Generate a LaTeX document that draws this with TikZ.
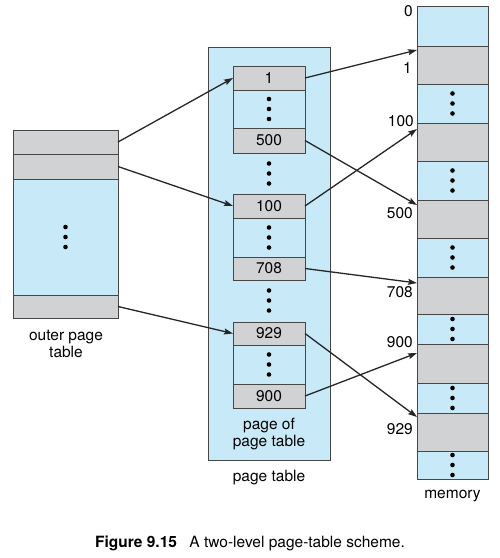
\documentclass[tikz,border=0pt]{standalone}
\usepackage{fontspec}
\setmainfont{TeX Gyre Heros}
\usetikzlibrary{arrows.meta}
\definecolor{cellblue}{RGB}{200,233,248}
\definecolor{cellgray}{RGB}{209,210,211}
\definecolor{edgecol}{RGB}{70,70,70}
\newcommand\mydots[1]{\fill (#1) ++(0,-10) circle (2.3) (#1) circle (2.3) (#1) ++(0,10) circle (2.3);}
\tikzset{
  txt/.style={font=\fontsize{15.5}{17.5}\selectfont, inner sep=1pt, align=center},
  cell/.style={draw=edgecol, line width=0.8pt, inner sep=0pt, outer sep=0pt, font=\fontsize{15.5}{17.5}\selectfont},
  gcell/.style={cell, fill=cellgray},
  bcell/.style={cell, fill=cellblue},
  ow/.style={minimum width=105},
  iw/.style={minimum width=72},
  mw/.style={minimum width=71},
  link/.style={line width=1.3pt, draw=black!85, -{Stealth[length=9pt,width=6pt,inset=1.5pt]}}
}
\begin{document}
\begin{tikzpicture}[x=1pt,y=-1pt]
\useasboundingbox (0,0) rectangle (499,558);
% outer page table
\node[gcell, ow, minimum height=24] (o1) at (65.5,142) {};
\node[gcell, ow, minimum height=25] (o2) at (65.5,166.5) {};
\node[bcell, ow, minimum height=116] (ob) at (65.5,237) {};
\node[gcell, ow, minimum height=23] (o3) at (65.5,306.5) {};
\mydots{ob}
\node[txt] (olab) at (66,344) {outer page\\table};
% page table
\node[bcell, minimum width=122, minimum height=413] (pt) at (269,253.5) {};
\node[gcell, iw, minimum height=24] (b1) at (269,78) {1};
\node[bcell, iw, minimum height=38] (b1d) at (269,109) {};
\node[gcell, iw, minimum height=25] (b500) at (269,140.5) {500};
\node[gcell, iw, minimum height=24] (b2) at (269,206) {100};
\node[bcell, iw, minimum height=39] (b2d) at (269,237.5) {};
\node[gcell, iw, minimum height=23] (b708) at (269,268.5) {708};
\node[gcell, iw, minimum height=23] (b3) at (269,333.5) {929};
\node[bcell, iw, minimum height=39] (b3d) at (269,364.5) {};
\node[gcell, iw, minimum height=24] (b900) at (269,396) {900};
\mydots{b1d}
\mydots{b2d}
\mydots{b3d}
\coordinate (g1) at (269,173.5);
\coordinate (g2) at (269,300.5);
\mydots{g1}
\mydots{g2}
\node[txt] (poplab) at (269,434) {page of\\page table};
\node[txt] (ptlab) at (269,478) {page table};
% memory
\node[bcell, mw, minimum height=40] (m0) at (452.5,26) {};
\node[gcell, mw, minimum height=38] (m1) at (452.5,65) {};
\node[bcell, mw, minimum height=39] (md1) at (452.5,103.5) {};
\node[gcell, mw, minimum height=38] (m100) at (452.5,142) {};
\node[bcell, mw, minimum height=39] (md2) at (452.5,180.5) {};
\node[gcell, mw, minimum height=38] (m500) at (452.5,219) {};
\node[bcell, mw, minimum height=39] (md3) at (452.5,257.5) {};
\node[gcell, mw, minimum height=37] (m708) at (452.5,295.5) {};
\node[bcell, mw, minimum height=30] (md4) at (452.5,329) {};
\node[gcell, mw, minimum height=39] (m900) at (452.5,363.5) {};
\node[bcell, mw, minimum height=30] (md5) at (452.5,398) {};
\node[gcell, mw, minimum height=38] (m929) at (452.5,432) {};
\node[bcell, mw, minimum height=28] (md6) at (452.5,465) {};
\foreach \n in {md1,md2,md3,md4,md5,md6} {\mydots{\n}}
\node[txt, anchor=east] (l0) at (414,11) {0};
\node[txt, anchor=east] (l1) at (413,67.5) {1};
\node[txt, anchor=east] (l100) at (415,121) {100};
\node[txt, anchor=east] (l500) at (414,213) {500};
\node[txt, anchor=east] (l708) at (414,292) {708};
\node[txt, anchor=east] (l900) at (414,342) {900};
\node[txt, anchor=east] (l929) at (414,429) {929};
\node[txt] (mlab) at (452.5,496) {memory};
% arrows
\draw[link] (o1.east) -- (b1.west);
\draw[link] (o2.east) -- (b2.west);
\draw[link] (o3.east) -- (b3.west);
\draw[link] (b1.east) -- ([yshift=-4]m1.north west);
\draw[link] (b500.east) -- ([yshift=-5]m500.north west);
\draw[link] (b2.east) -- ([yshift=-6]m100.north west);
\draw[link] (b708.east) -- ([yshift=-6]m708.north west);
\draw[link] (b3.east) -- ([yshift=-4]m929.north west);
\draw[link] (b900.east) -- ([yshift=-9]m900.north west);
% caption
\node[txt] (cap) at (250,543) {\textbf{Figure 9.15}\hspace{0.8em}A two-level page-table scheme.};
\end{tikzpicture}
\end{document}
